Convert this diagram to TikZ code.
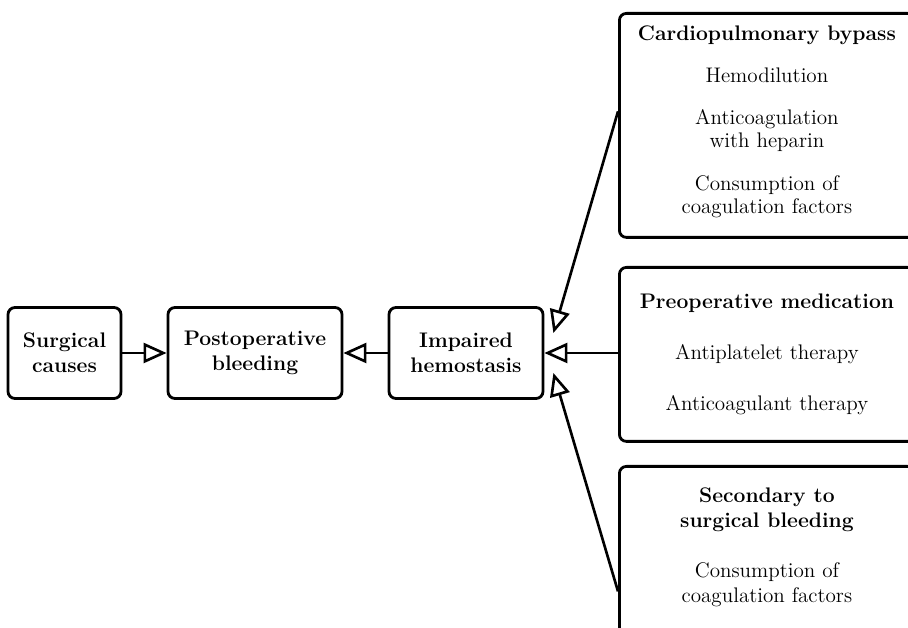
\documentclass[tikz,border=0pt]{standalone}
\usepackage{tikz}
\usetikzlibrary{positioning, arrows.meta}

\begin{document}
\begin{tikzpicture}[
	box/.style={draw, line width=1.6pt, rounded corners=4pt, align=center, inner sep=2pt},
	arr/.style={line width=1.5pt, -{Triangle[open, length=0.46cm, width=0.4cm]}},
	font=\fontsize{12}{13}\selectfont]
	\clip (0,0) rectangle (18.16,12.56);
	%Left chain
	\node[box, minimum width=2.26cm, minimum height=1.82cm] (surg) at (1.29,5.5) {\textbf{Surgical}\\[1pt]\textbf{causes}};
	\node[box, minimum width=3.48cm, minimum height=1.82cm] (post) at (5.1,5.5) {\textbf{Postoperative}\\[1pt]\textbf{bleeding}};
	\node[box, minimum width=3.08cm, minimum height=1.82cm] (imp) at (9.32,5.5) {\textbf{Impaired}\\[1pt]\textbf{hemostasis}};
	%Right boxes
	\node[box, anchor=north west, minimum width=5.9cm, minimum height=4.48cm] (cpb) at (12.36,12.32)
	{\textbf{Cardiopulmonary bypass}\\[11pt] Hemodilution\\[11pt] Anticoagulation\\ with heparin\\[11.5pt] Consumption of\\ coagulation factors\\[-6pt]\mbox{}};
	\node[box, anchor=north west, minimum width=5.9cm, minimum height=3.48cm] (preop) at (12.36,7.24)
	{\textbf{Preoperative medication}\\[16pt] Antiplatelet therapy\\[16pt] Anticoagulant therapy};
	\node[box, anchor=north west, minimum width=5.9cm, minimum height=3.4cm] (sec) at (12.36,3.26)
	{\textbf{Secondary to}\\[1pt] \textbf{surgical bleeding}\\[15.5pt] Consumption of\\[1pt] coagulation factors\\[-6pt]\mbox{}};
	% Arrows
	\draw[arr] (surg) -- (post);
	\draw[arr] (imp) -- (post);
	\draw[arr] (preop.west |- imp.east) -- (imp.east);
	\draw[arr] ([yshift=0.28cm]cpb.west) -- ([xshift=0.18cm, yshift=0.4cm]imp.east);
	\draw[arr] ([yshift=-0.8cm]sec.west) -- ([xshift=0.18cm, yshift=-0.4cm]imp.east);
\end{tikzpicture}
\end{document}
